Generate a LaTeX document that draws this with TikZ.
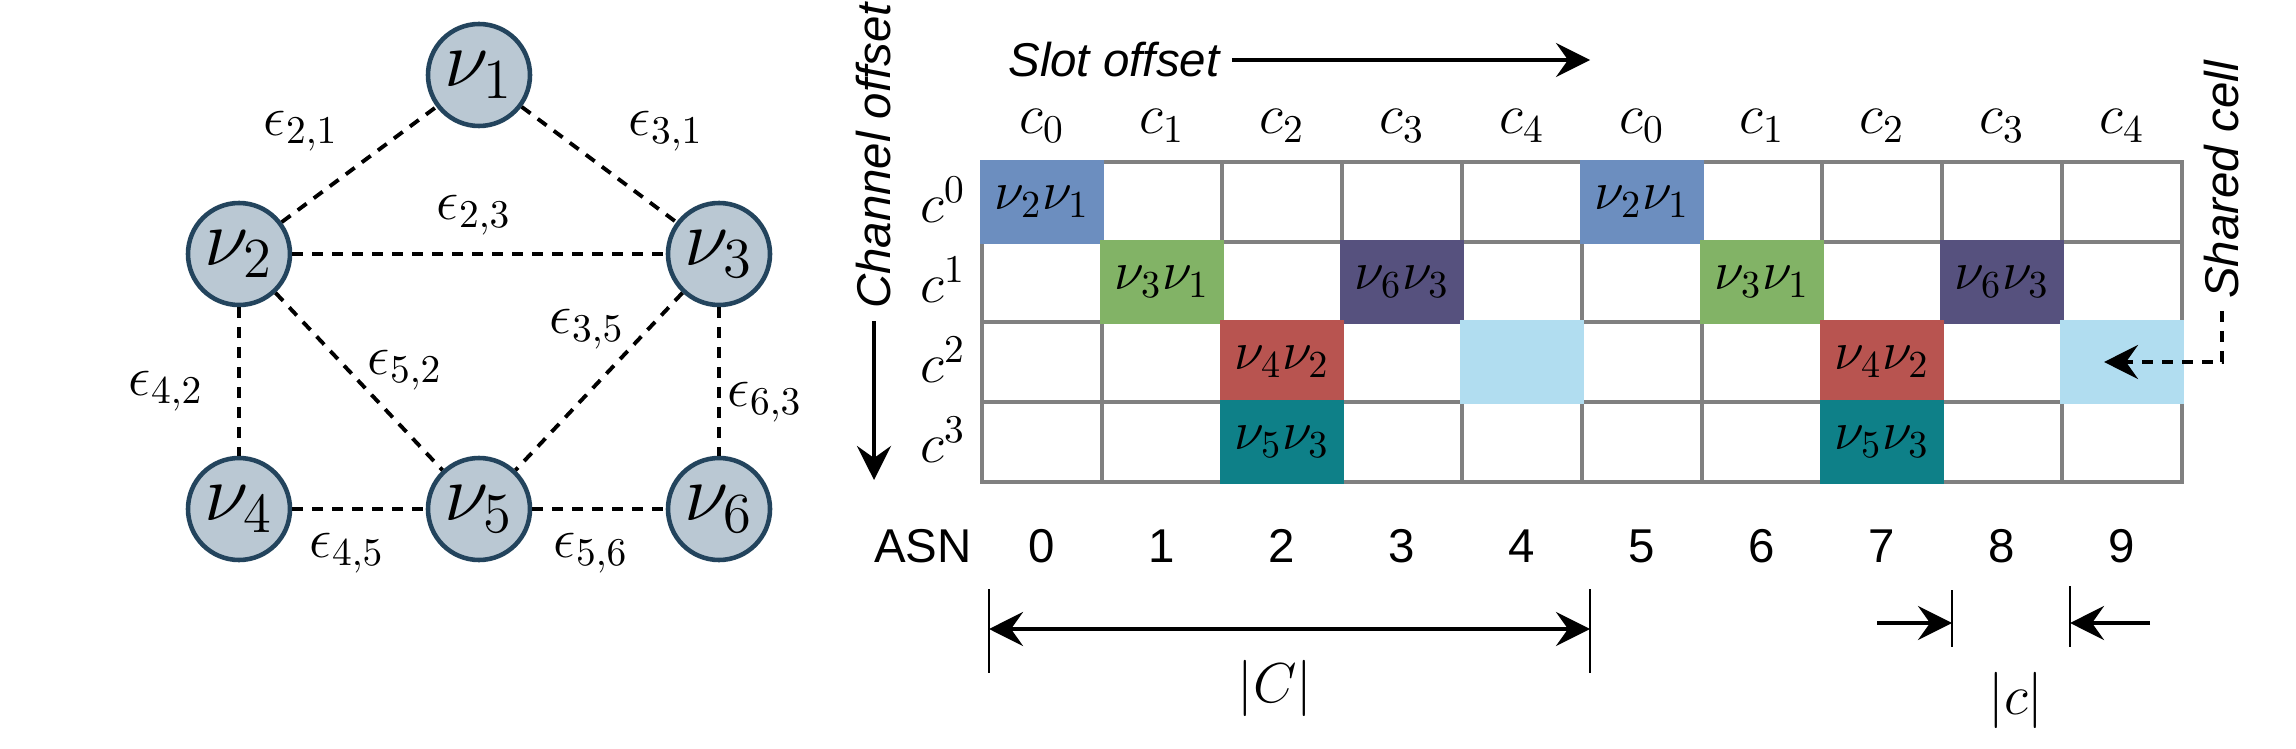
\RequirePackage{fix-cm}
\documentclass[tikz,border=0pt]{standalone}
\usepackage{fontspec}
\newfontfamily\lblfont{Liberation Sans}
\usetikzlibrary{positioning,arrows.meta}
\definecolor{nodefill}{HTML}{BAC8D3}
\definecolor{nodeline}{HTML}{23445D}
\definecolor{gridline}{HTML}{808080}
\definecolor{cblue}{HTML}{6C8EBF}
\definecolor{cgreen}{HTML}{82B366}
\definecolor{cpurple}{HTML}{56517E}
\definecolor{cred}{HTML}{B85450}
\definecolor{cteal}{HTML}{0E8088}
\definecolor{cshared}{HTML}{B1DDF0}
\tikzset{
  link/.style={draw,dashed,dash pattern=on 0.11cm off 0.09cm,line width=1.1pt},
  elabel/.style={font=\fontsize{16}{19}\selectfont},
  cell/.style={draw=gridline,fill=white,line width=1.3pt,minimum width=1.2cm,minimum height=0.8cm,inner sep=0pt,outer sep=0pt},
  busy/.style={draw=#1,fill=#1,line width=1.3pt,minimum width=1.2cm,minimum height=0.8cm,inner sep=0pt,outer sep=0pt,font=\fontsize{15.5}{18}\selectfont},
  hdr/.style={font=\fontsize{16}{19}\selectfont},
  lbl/.style={font=\lblfont\fontsize{13.5}{16}\selectfont},
  arr/.style={->,line width=1.2pt},
  tick/.style={line width=0.7pt}
}
\begin{document}
\begin{tikzpicture}[main/.style={draw=nodeline,fill=nodefill,circle,line width=1.3pt,minimum size=1.02cm,inner sep=0pt,font=\fontsize{23}{27}\selectfont},node distance={2.4cm},>={Stealth[length=3.4mm,width=3.4mm,inset=1.2mm]}]
\useasboundingbox (0,0) rectangle (22.96,-7.48);
% graph
\node[main](v4) at (2.39,-5.09){$\nu_4$};
\node[main](v5)[right of=v4]{$\nu_5$};
\node[main](v6)[right of=v5]{$\nu_6$};
\node[main](v2)[above of=v4,node distance=2.55cm]{$\nu_2$};
\node[main](v3)[above of=v6,node distance=2.55cm]{$\nu_3$};
\node[main](v1)[above of=v5,node distance=4.34cm]{$\nu_1$};
\draw[link](v2) -- (v1);
\draw[link](v1) -- (v3);
\draw[link](v2) -- (v3);
\draw[link](v2) -- (v4);
\draw[link](v2) -- (v5);
\draw[link](v3) -- (v5);
\draw[link](v3) -- (v6);
\draw[link](v4) -- (v5);
\draw[link](v5) -- (v6);
\node[elabel](e21) at (3.01,-1.31){$\epsilon_{2,1}$};
\node[elabel](e31) at (6.66,-1.31){$\epsilon_{3,1}$};
\node[elabel](e23) at (4.74,-2.15){$\epsilon_{2,3}$};
\node[elabel](e35) at (5.87,-3.29){$\epsilon_{3,5}$};
\node[elabel](e52) at (4.05,-3.70){$\epsilon_{5,2}$};
\node[elabel](e42) at (1.66,-3.91){$\epsilon_{4,2}$};
\node[elabel](e63) at (7.65,-4.02){$\epsilon_{6,3}$};
\node[elabel](e45) at (3.47,-5.53){$\epsilon_{4,5}$};
\node[elabel](e56) at (5.91,-5.53){$\epsilon_{5,6}$};
% slotframe
\foreach \i in {0,...,9}
  \foreach \j in {0,...,3}
    \node[cell](s\i-\j) at ({10.42+1.2*\i},{-2.02-0.8*\j}){};
\foreach \o in {0,5}{
  \foreach \c/\r/\col/\txt in {0/0/cblue/{$\nu_2\nu_1$},1/1/cgreen/{$\nu_3\nu_1$},3/1/cpurple/{$\nu_6\nu_3$},2/2/cred/{$\nu_4\nu_2$},2/3/cteal/{$\nu_5\nu_3$},4/2/cshared/{}}{
    \pgfmathtruncatemacro\x{\c+\o}
    \node[busy=\col](b\x-\r) at (s\x-\r){\txt};
  }
}
\foreach \i in {0,...,9}{
  \pgfmathtruncatemacro\k{mod(\i,5)}
  \node[hdr](h\i) at ({10.42+1.2*\i},-1.26){$c_{\k}$};
  \node[lbl](n\i) at ({10.42+1.2*\i},-5.46){\i};
}
\foreach \j in {0,...,3}
  \node[hdr](r\j) at (9.43,{-2.0-0.8*\j}){$c^{\j}$};
\node[lbl](asn) at (9.23,-5.46){ASN};
% offsets
\node[lbl,anchor=west](slot) at (9.96,-0.60){\itshape Slot offset};
\coordinate (slotend) at (15.90,-0.60);
\draw[arr](slot) -- (slotend);
\node[lbl,rotate=90](chan) at (8.74,-1.56){\itshape Channel offset};
\coordinate (chanend) at (8.74,-4.80);
\draw[arr](chan) -- (chanend);
\node[lbl,rotate=90](shared) at (22.22,-1.80){\itshape Shared cell};
\coordinate (sharedtip) at (21.04,-3.62);
\draw[arr,dashed,dash pattern=on 0.11cm off 0.09cm](shared) |- (sharedtip);
% lengths
\coordinate (Cl) at (9.89,-6.29);
\coordinate (Cr) at (15.90,-6.29);
\draw[<->,line width=1.2pt](Cl) -- (Cr);
\draw[tick]([yshift=4mm]Cl) -- ([yshift=-4.4mm]Cl);
\draw[tick]([yshift=4mm]Cr) -- ([yshift=-4.4mm]Cr);
\node[elabel](Clen) at (12.75,-6.88){$|C|$};
\coordinate (ca) at (18.77,-6.23);
\coordinate (cb) at (19.52,-6.23);
\coordinate (cc) at (21.50,-6.23);
\coordinate (cd) at (20.70,-6.23);
\draw[arr](ca) -- (cb);
\draw[arr](cc) -- (cd);
\draw[tick]([yshift=3.3mm]cb) -- ([yshift=-2.4mm]cb);
\draw[tick]([yshift=3.7mm]cd) -- ([yshift=-2.4mm]cd);
\node[elabel](clen) at (20.16,-7.0){$|c|$};
\end{tikzpicture}
\end{document}
